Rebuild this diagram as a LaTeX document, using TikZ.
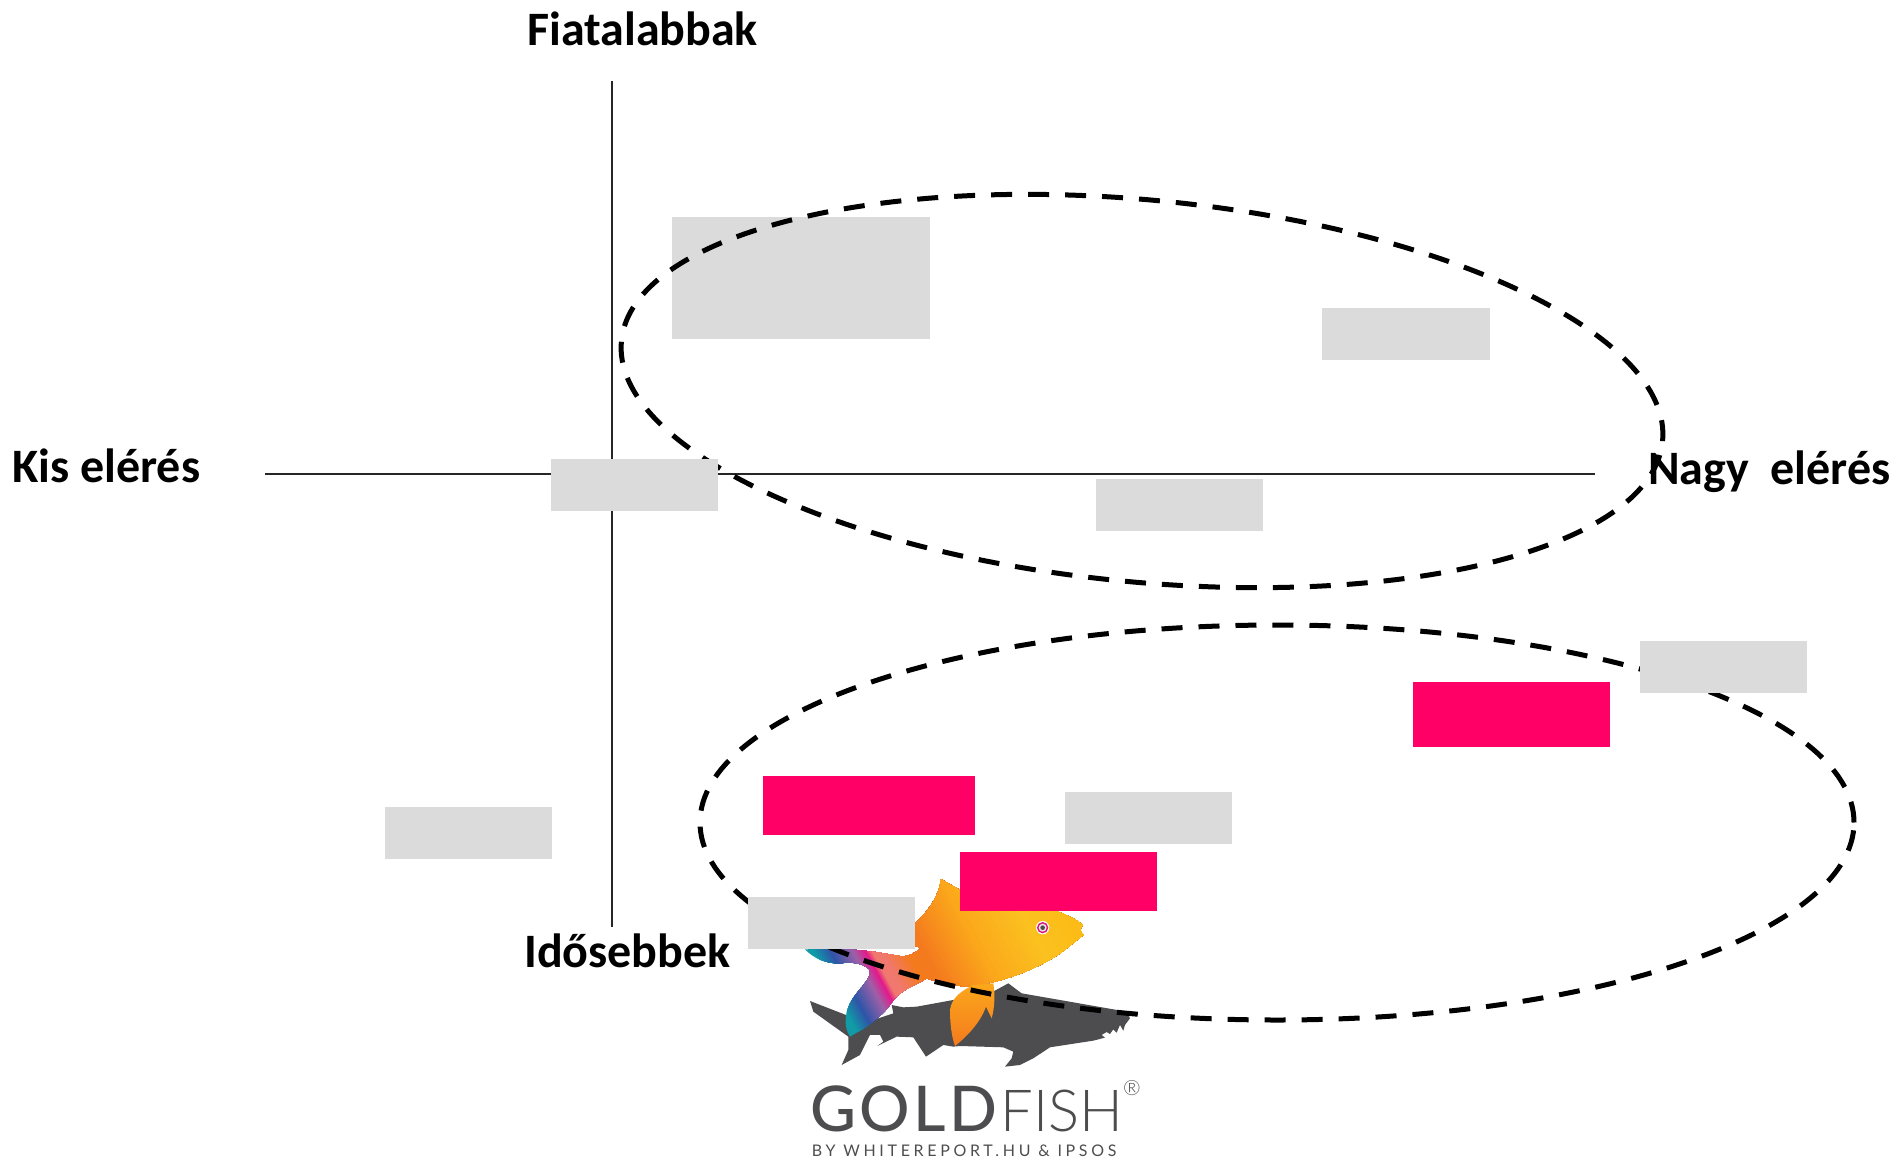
\documentclass[tikz,border=0pt]{standalone}
\usepackage{fontspec}
\setmainfont{Carlito}
\newfontfamily\logoheavy[LetterSpace=5]{Lato Medium}
\newfontfamily\logolight{Lato Light}
\newfontfamily\logosmall[LetterSpace=23]{Lato}
\definecolor{teal0}{HTML}{109BA6}
\definecolor{blue0}{HTML}{2F55A8}
\definecolor{purp0}{HTML}{A060A8}
\definecolor{mag0}{HTML}{E5198C}
\definecolor{salm0}{HTML}{F0786E}
\definecolor{oran0}{HTML}{F47A1E}
\definecolor{ambr0}{HTML}{FBA81B}
\definecolor{yell0}{HTML}{FBC11F}
\definecolor{ambr1}{HTML}{FDB913}
\definecolor{boxgray}{HTML}{DBDBDB}
\definecolor{boxpink}{HTML}{FF0066}
\definecolor{sharkgray}{HTML}{4D4D4F}
\tikzset{
  axisline/.style={line width=1.6pt,black!85},
  bubble/.style={line width=5pt,black,dash pattern=on 21pt off 16pt},
  graybox/.style={fill=boxgray,draw=none},
  pinkbox/.style={fill=boxpink,draw=none},
  axislabel/.style={font=\fontsize{48}{48}\selectfont\bfseries,inner sep=0pt,anchor=base west},
  logotext/.style={inner sep=0pt,anchor=base west,text=sharkgray},
}
\begin{document}
\begin{tikzpicture}[x=1pt,y=-1pt]
\useasboundingbox (0,0) rectangle (1895,1159);
% logo
\begin{scope}[shift={(760,860)},x=0.3333pt,y=-0.3333pt]
\fill[sharkgray] (150,423) -- (258,465) -- (340,480) -- (400,460) -- (395,435) -- (430,442) -- (470,440) -- (580,420) -- (690,400) -- (745,370) -- (785,400) -- (900,420) -- (1100,455) -- (1110,475) -- (1095,495) -- (1090,512) -- (1080,495) -- (1070,518) -- (1060,508) -- (1050,522) -- (1040,516) -- (1025,525) -- (1035,533) -- (1000,542) -- (870,562) -- (820,595) -- (780,615) -- (735,620) -- (755,595) -- (760,575) -- (730,562) -- (600,558) -- (580,560) -- (550,555) -- (498,590) -- (460,532) -- (410,530) -- (352,558) -- (370,545) -- (360,525) -- (330,525) -- (300,585) -- (245,615) -- (265,570) -- (265,530) -- (160,455) -- cycle;
\begin{scope}
\clip (970,225) -- (960,210) -- (968,195) .. controls (945,175) and (920,165) .. (880,150) -- (600,90) -- (542,57) .. controls (540,100) and (510,150) .. (465,190) -- (465,260) -- (485,262) .. controls (460,285) and (440,290) .. (420,288) -- (340,275) -- (240,265) -- (135,268) .. controls (160,295) and (200,312) .. (240,310) .. controls (280,305) and (310,310) .. (330,330) .. controls (335,360) and (290,390) .. (270,430) .. controls (255,460) and (250,500) .. (270,530) .. controls (320,500) and (370,470) .. (400,420) .. controls (430,385) and (470,375) .. (500,355) .. controls (560,375) and (620,385) .. (650,375) .. controls (740,365) and (860,315) .. (920,265) -- cycle;
\begin{scope}[rotate=28.4]
\fill[teal0] (-400,-900) rectangle (900,900);
\foreach \da/\db/\ca/\cb in {10/55/teal0/blue0,55/115/blue0/purp0,115/148/purp0/mag0,148/165/mag0/salm0,165/190/salm0/salm0,190/255/salm0/oran0,255/300/oran0/oran0,300/450/oran0/ambr0,450/609/ambr0/yell0,609/800/yell0/ambr1}{
  \foreach \t in {0,5,...,100}{
    \pgfmathsetmacro{\dd}{\da+(\db-\da)*(\t/100)}
    \fill[\cb!\t!\ca] (\dd,-900) rectangle (900,900);
  }
}
\end{scope}
\end{scope}
\shade[top color=ambr0,bottom color=oran0] (640,375) .. controls (610,390) and (575,410) .. (570,450) .. controls (570,490) and (575,530) .. (585,558) .. controls (620,530) and (660,490) .. (678,440) -- (695,475) .. controls (705,440) and (705,400) .. (700,370) -- cycle;
\fill[white] (848,203) circle [radius=20];
\fill[magenta!70!purple] (848,203) circle [radius=17];
\fill[white!80!gray] (848,203) circle [radius=12];
\fill[sharkgray] (848,203) circle [radius=7];
\node[name=logogold,logotext,font=\logoheavy\fontsize{63}{63}\selectfont] at (152,815) {GOLD};
\node[name=logofish,logotext,font=\logolight\fontsize{58}{58}\selectfont] at (722,815) {FISH};
\node[name=logoreg,inner sep=0pt,text=sharkgray,font=\logolight\fontsize{21}{21}\selectfont] at (1116,684) {®};
\node[name=logoby,logotext,font=\logosmall\fontsize{16}{16}\selectfont] at (155,891) {BY WHITEREPORT.HU \& IPSOS};
\end{scope}
% axes
\coordinate (axtop) at (612,81);
\coordinate (axbot) at (612,927);
\coordinate (axleft) at (265,474);
\coordinate (axright) at (1595,474);
\draw[axisline] (axtop) -- (axbot);
\draw[axisline] (axleft) -- (axright);
% boxes behind ellipse
\fill[graybox] (672,217) rectangle (930,339);
\fill[graybox] (1322,308) rectangle (1490,360);
\fill[graybox] (1096,479) rectangle (1263,531);
% ellipses
\draw[bubble,rotate around={-5.5:(1142,391)}] (1142,391) ellipse [x radius=523pt,y radius=191pt];
\draw[bubble] (1277,822.5) ellipse [x radius=577pt,y radius=197.5pt];
% boxes in front
\fill[graybox] (551,459) rectangle (718,511);
\fill[graybox] (1640,641) rectangle (1807,693);
\fill[graybox] (1065,792) rectangle (1232,844);
\fill[graybox] (385,807) rectangle (552,859);
\fill[graybox] (748,897) rectangle (915,949);
\fill[pinkbox] (1413,682) rectangle (1610,747);
\fill[pinkbox] (763,776) rectangle (975,835);
\fill[pinkbox] (960,852) rectangle (1157,911);
% labels
\node[axislabel,name=young] at (527,45.5) {Fiatalabbak};
\node[axislabel,name=old] at (524,967) {Idősebbek};
\node[axislabel,name=small] at (12,482) {Kis elérés};
\node[axislabel,name=big] at (1648,484) {Nagy\ \ elérés};
\end{tikzpicture}
\end{document}
